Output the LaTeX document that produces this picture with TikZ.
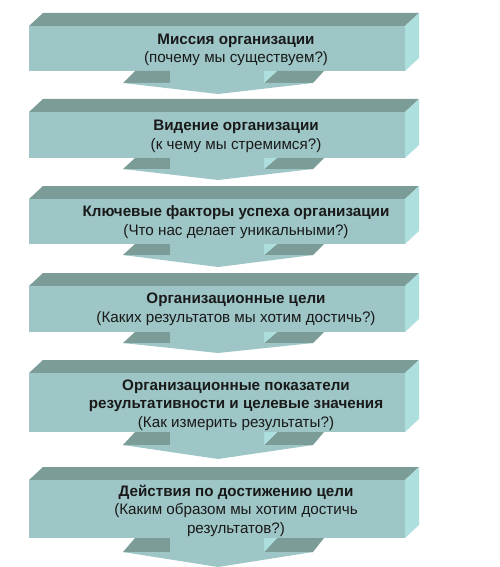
\documentclass[tikz,border=0pt]{standalone}
\usepackage{fontspec}
\setmainfont{Liberation Sans}
\definecolor{frontc}{RGB}{158,198,198}
\definecolor{topc}{RGB}{124,156,152}
\definecolor{sidec}{RGB}{173,223,223}
\tikzset{
  frontface/.style={fill=frontc,draw=none},
  topface/.style={fill=topc,draw=none},
  sideface/.style={fill=sidec,draw=none},
  txt/.style={anchor=base,align=center,inner sep=0pt,font=\fontsize{15.2}{18.2}\selectfont,text=black!90}
}
% \stepblock{front top}{front bottom}{wing}{tip}
\newcommand{\stepblock}[4]{%
  \fill[topface] (29,#1) -- (43,#1-13) -- (419,#1-13) -- (405,#1) -- cycle;
  \fill[sideface] (405,#1) -- (419,#1-13) -- (419,#2-13) -- (405,#2) -- cycle;
  \fill[frontface] (29,#1) rectangle (405,#2);
  \fill[topface] (123,#2+#3) -- (135,#2) -- (170,#2) -- (170,#2+#3) -- cycle;
  \fill[topface] (264,#2+#3) -- (313,#2+#3) -- (324,#2) -- (277,#2) -- cycle;
  \fill[sideface] (264,#2) -- (277,#2) -- (264,#2+#3) -- cycle;
  \fill[frontface] (170,#2-0.5) -- (264,#2-0.5) -- (264,#2+#3) -- (313,#2+#3) -- (218,#2+#4) -- (123,#2+#3) -- (170,#2+#3) -- cycle;
}
\begin{document}
\begin{tikzpicture}[x=1pt,y=-1pt]
\useasboundingbox (0,0) rectangle (500,567);
\stepblock{26}{71}{12}{23}
\stepblock{112}{158}{11}{22}
\stepblock{199}{244}{11}{23}
\stepblock{286}{332}{11}{21}
\stepblock{373}{432}{13}{27}
\stepblock{480}{538}{14}{29}
\node[txt] (t1) at (236,63) {\textbf{Миссия организации}\\(почему мы существуем?)};
\node[txt] (t2) at (236,149) {\textbf{Видение организации}\\(к чему мы стремимся?)};
\node[txt] (t3) at (236,235) {\textbf{Ключевые факторы успеха организации}\\(Что нас делает уникальными?)};
\node[txt] (t4) at (236,322) {\textbf{Организационные цели}\\(Каких результатов мы хотим достичь?)};
\node[txt] (t5) at (236,427) {\textbf{Организационные показатели}\\\textbf{результативности и целевые значения}\\(Как измерить результаты?)};
\node[txt] (t6) at (236,533) {\textbf{Действия по достижению цели}\\(Каким образом мы хотим достичь\\результатов?)};
\end{tikzpicture}
\end{document}
